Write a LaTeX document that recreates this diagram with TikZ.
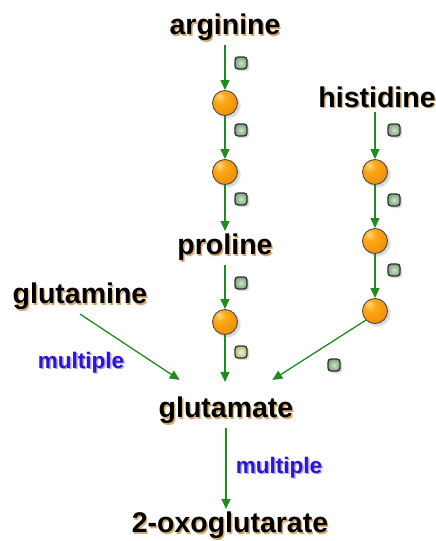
\documentclass[tikz,border=0pt]{standalone}
\usepackage{fontspec}
\setmainfont{Liberation Sans}
\usetikzlibrary{arrows.meta,shadows}

\definecolor{flow}{RGB}{30,140,30}
\definecolor{txtshade}{RGB}{215,170,110}
\definecolor{labblue}{RGB}{45,20,215}
\definecolor{labshade}{RGB}{165,165,215}
\definecolor{enzfill}{RGB}{150,195,150}
\definecolor{enzedge}{RGB}{45,50,45}
\definecolor{enzyellow}{RGB}{220,220,150}
\definecolor{ballhi}{RGB}{255,215,120}
\definecolor{ballmid}{RGB}{252,168,25}
\definecolor{ballbody}{RGB}{238,138,0}
\definecolor{ballrim}{RGB}{175,90,0}

% glossy orange sphere
\pgfdeclareradialshading{orangeball}{\pgfpoint{-12bp}{14bp}}{%
  color(0bp)=(ballhi); color(12bp)=(ballmid); color(38bp)=(ballbody);
  color(58bp)=(ballrim); color(80bp)=(ballrim)}

% text with a soft offset shadow
\newcommand\shtext[2]{\leavevmode\rlap{\kern1.4pt\raisebox{-1.4pt}{\textcolor{#1}{#2}}}#2}

\tikzset{
  metab/.style={font=\fontsize{28.5}{31}\selectfont\bfseries, text=black,
                inner sep=0pt, outer sep=3pt},
  lab/.style={font=\fontsize{22.5}{25}\selectfont\bfseries, text=labblue, inner sep=0pt},
  ball/.style={circle, minimum size=25pt, inner sep=0pt, shading=orangeball,
               draw=black!70, line width=0.9pt,
               circular drop shadow={shadow xshift=2pt, shadow yshift=-2pt, opacity=0.3}},
  enz/.style={rectangle, rounded corners=3pt, minimum size=12pt, inner sep=0pt,
              inner color=enzfill!45!white, outer color=enzfill!85!black,
              draw=enzedge, line width=1.3pt,
              drop shadow={shadow xshift=2pt, shadow yshift=-2pt, opacity=0.3}},
  enzy/.style={enz, inner color=enzyellow!45!white, outer color=enzyellow!85!black},
  flowarrow/.style={draw=flow, line width=1.3pt,
                    -{Triangle[length=10pt,width=9pt]}},
}

\begin{document}
\begin{tikzpicture}[x=1pt,y=-1pt]
  \useasboundingbox (0,0) rectangle (436,541);

  % metabolites
  \node[metab] (arg) at (225,28)  {\shtext{txtshade}{arginine}};
  \node[metab] (his) at (377,98)  {\shtext{txtshade}{histidine}};
  \node[metab] (pro) at (225,248) {\shtext{txtshade}{proline}};
  \node[metab] (gln) at (80,297)  {\shtext{txtshade}{glutamine}};
  \node[metab] (glu) at (226,411) {\shtext{txtshade}{glutamate}};
  \node[metab] (oxo) at (230,526) {\shtext{txtshade}{2-oxoglutarate}};

  % intermediates
  \node[ball] (a1) at (225,103) {};
  \node[ball] (a2) at (225,172) {};
  \node[ball] (p1) at (225,322) {};
  \node[ball] (h1) at (375,172) {};
  \node[ball] (h2) at (375,241) {};
  \node[ball] (h3) at (375,311) {};

  % enzymes
  \node[enz]  (e1) at (241,63)  {};
  \node[enz]  (e2) at (241,130) {};
  \node[enz]  (e3) at (241,199) {};
  \node[enz]  (e4) at (241,283) {};
  \node[enzy] (e5) at (241,352) {};
  \node[enz]  (e6) at (394,130) {};
  \node[enz]  (e7) at (394,200) {};
  \node[enz]  (e8) at (394,270) {};
  \node[enz]  (e9) at (334,365) {};

  % reactions
  \draw[flowarrow] (arg.south -| a1.north) -- (a1);
  \draw[flowarrow] (a1) -- (a2);
  \draw[flowarrow] (a2) -- (a2 |- pro.north);
  \draw[flowarrow] (pro.south -| p1.north) -- (p1);
  \draw[flowarrow] (p1) -- ([yshift=12pt]p1 |- glu.north);
  \draw[flowarrow] (his.south -| h1.north) -- (h1);
  \draw[flowarrow] (h1) -- (h2);
  \draw[flowarrow] (h2) -- (h3);
  \draw[flowarrow] (h3.south west) -- ([xshift=-24pt,yshift=14pt]glu.north east);
  \draw[flowarrow] (gln.south) -- ([xshift=24pt,yshift=14pt]glu.north west);
  \draw[flowarrow] (glu.south) -- (glu.south |- oxo.north);

  % pathway labels
  \node[lab] (m1) at (81,363)  {\shtext{labshade}{multiple}};
  \node[lab] (m2) at (279,468) {\shtext{labshade}{multiple}};
\end{tikzpicture}
\end{document}
